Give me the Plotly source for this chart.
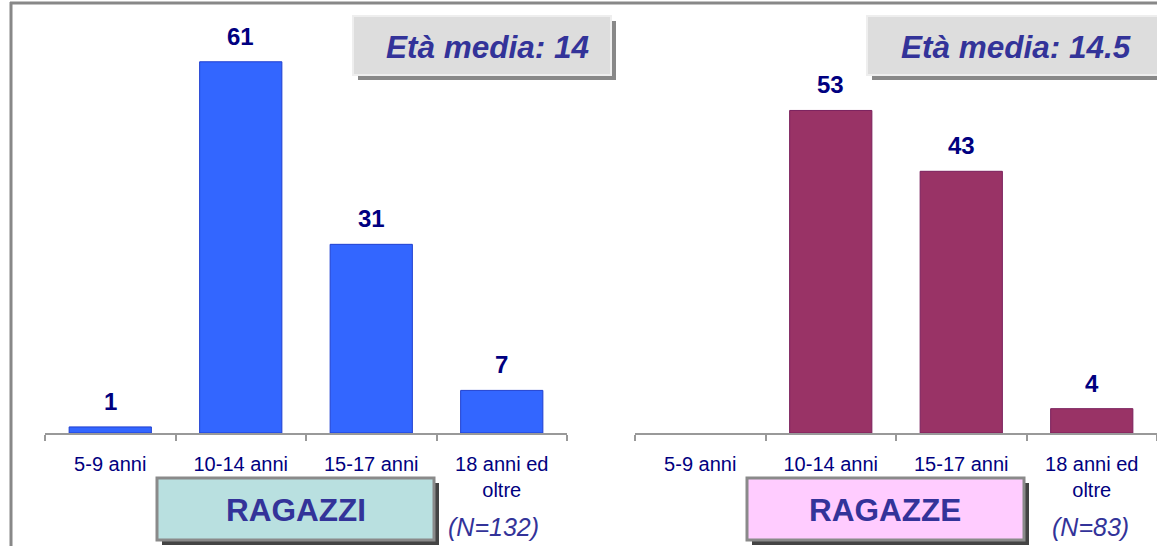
import plotly.graph_objects as go

W, H = 1157, 546

categories = ["5-9 anni", "10-14 anni", "15-17 anni", "18 anni ed<br>oltre"]
ragazzi = [1, 61, 31, 7]
ragazze = [None, 53, 43, 4]
eta_ragazzi = "Età media: 14"
eta_ragazze = "Età media: 14.5"
n_ragazzi = "(N=132)"
n_ragazze = "(N=83)"

NAVY = "#000080"
TXT = "#333399"
FONT = "Liberation Sans, Arial, sans-serif"

def px(x):
    return x / W

def py(y):
    return 1 - y / H

fig = go.Figure()
fig.add_trace(go.Bar(x=categories, y=ragazzi, xaxis="x", yaxis="y",
                     marker=dict(color="#3366FF", line=dict(color="#1f3fd0", width=1)),
                     width=0.63, showlegend=False, hoverinfo="skip"))
fig.add_trace(go.Bar(x=categories, y=ragazze, xaxis="x2", yaxis="y2",
                     marker=dict(color="#993366", line=dict(color="#7a1f5c", width=1)),
                     width=0.63, showlegend=False, hoverinfo="skip"))

annotations = []
for xr, yr, vals in (("x", "y", ragazzi), ("x2", "y2", ragazze)):
    for c, v in zip(categories, vals):
        if v is None:
            continue
        annotations.append(dict(x=c, y=v, xref=xr, yref=yr, text=f"<b>{v}</b>",
                                showarrow=False, yanchor="bottom", yshift=10,
                                font=dict(family=FONT, size=24, color=NAVY)))

shapes = []
# frame lines
shapes.append(dict(type="line", xref="paper", yref="paper", x0=px(11), x1=px(11), y0=py(2), y1=py(550),
                   line=dict(color="#888888", width=3)))
shapes.append(dict(type="line", xref="paper", yref="paper", x0=px(10), x1=px(1165), y0=py(3), y1=py(3),
                   line=dict(color="#888888", width=3)))

def box(x0, y0, x1, y1, fill, border, bw, shadow, off=5):
    shapes.append(dict(type="rect", xref="paper", yref="paper", x0=px(x0 + off), x1=px(x1 + off),
                       y0=py(y1 + off), y1=py(y0 + off), fillcolor=shadow, line=dict(width=0), layer="above"))
    shapes.append(dict(type="rect", xref="paper", yref="paper", x0=px(x0), x1=px(x1),
                       y0=py(y1), y1=py(y0), fillcolor=fill, line=dict(color=border, width=bw), layer="above"))

box(353, 16, 611, 75, "#DDDDDD", "#EEEEEE", 2, "#888888")
box(867, 16, 1165, 75, "#DDDDDD", "#EEEEEE", 2, "#888888")
box(157, 478, 434, 540, "#B9E0E0", "#8A8A8A", 3, "#444444")
box(747, 478, 1024, 540, "#FFCCFF", "#8A8A8A", 3, "#444444")

def label(x, y, text, size, italic=False, bold=True):
    t = text
    if bold:
        t = f"<b>{t}</b>"
    if italic:
        t = f"<i>{t}</i>"
    annotations.append(dict(x=px(x), y=py(y), xref="paper", yref="paper", text=t, showarrow=False,
                            xanchor="center", yanchor="middle", font=dict(family=FONT, size=size, color=TXT)))

label(487, 47, eta_ragazzi, 31.5, italic=True)
label(1016, 47, eta_ragazze, 31.5, italic=True)
label(296, 510, "RAGAZZI", 31.5)
label(885, 510, "RAGAZZE", 31.5)
label(493, 527, n_ragazzi, 25, italic=True, bold=False)
label(1090, 527, n_ragazze, 25, italic=True, bold=False)

axis_common = dict(type="category", range=[-0.5, 3.5], showline=True, linecolor="#999999", linewidth=1.5,
                   ticks="outside", tickson="boundaries", ticklen=6, tickcolor="#999999", tickwidth=1.5,
                   tickfont=dict(family=FONT, size=20, color=NAVY), showgrid=False, zeroline=False,
                   ticklabelstandoff=12, fixedrange=True)
yaxis_common = dict(range=[0, 70], domain=[py(433), py(7)], visible=False, showgrid=False, zeroline=False,
                    fixedrange=True)

fig.update_layout(
    width=W, height=H, margin=dict(l=0, r=0, t=0, b=0),
    paper_bgcolor="white", plot_bgcolor="rgba(0,0,0,0)",
    xaxis=dict(domain=[px(45), px(567)], anchor="y", **axis_common),
    xaxis2=dict(domain=[px(635), 1.0], anchor="y2", **axis_common),
    yaxis=dict(anchor="x", **yaxis_common),
    yaxis2=dict(anchor="x2", **yaxis_common),
    shapes=shapes, annotations=annotations, bargap=0.37,
)

fig.write_html("out.html", config={"displayModeBar": False},
               post_script="document.body.style.margin='0';document.body.style.overflow='hidden';")
